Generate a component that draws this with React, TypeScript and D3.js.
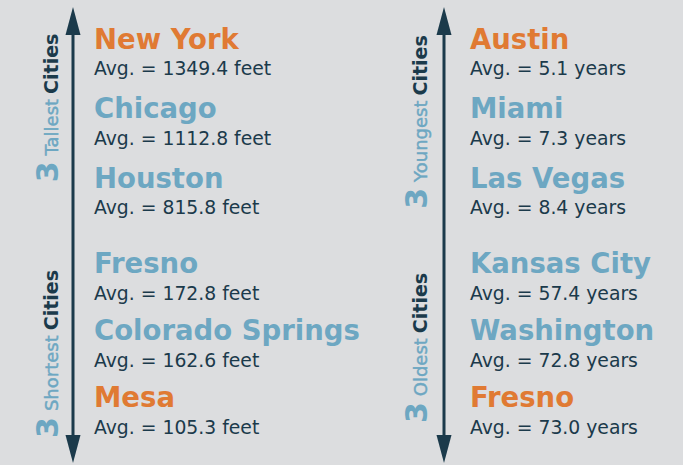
import React from "react";
import * as d3 from "d3";

const leftCities = ["New York", "Chicago", "Houston", "Fresno", "Colorado Springs", "Mesa"];
const leftValues = [1349.4, 1112.8, 815.8, 172.8, 162.6, 105.3];
const leftUnit = "feet";
const rightCities = ["Austin", "Miami", "Las Vegas", "Kansas City", "Washington", "Fresno"];
const rightValues = [5.1, 7.3, 8.4, 57.4, 72.8, 73.0];
const rightUnit = "years";
const groupLabels = [
  ["3", "Tallest", "Cities"],
  ["3", "Shortest", "Cities"],
  ["3", "Youngest", "Cities"],
  ["3", "Oldest", "Cities"],
];
const highlighted = [0, 5];

const W = 683;
const H = 465;
const BG = "#DCDDDF";
const ORANGE = "#E07A33";
const BLUE = "#6DA7C2";
const DARK = "#1B3A4B";
const FONT = "'DejaVu Sans', sans-serif";

const yTop = d3.scaleLinear().domain([0, 2]).range([48.5, 187.5]);
const yBot = d3.scaleLinear().domain([3, 5]).range([273, 407]);
const y = (i: number) => (i < 3 ? yTop(i) : yBot(i));

function Column({ x, cities, values, unit }: { x: number; cities: string[]; values: number[]; unit: string }) {
  return (
    <g>
      {cities.map((c, i) => (
        <g key={i}>
          <text x={x} y={y(i)} fontFamily={FONT} fontWeight="bold" fontSize={27.5}
            fill={highlighted.includes(i) ? ORANGE : BLUE}>{c}</text>
          <text x={x} y={y(i) + 26.5} fontFamily={FONT} fontSize={18.8} fill={DARK}>
            {`Avg. = ${d3.format(".1f")(values[i])} ${unit}`}
          </text>
        </g>
      ))}
    </g>
  );
}

function Arrow({ x }: { x: number }) {
  const top = 7, bot = 463, hl = 28, hw = 7.5;
  return (
    <g fill={DARK}>
      <line x1={x} x2={x} y1={top + hl - 2} y2={bot - hl + 2} stroke={DARK} strokeWidth={3} />
      <path d={`M${x},${top} L${x + hw},${top + hl} L${x - hw},${top + hl} Z`} />
      <path d={`M${x},${bot} L${x + hw},${bot - hl} L${x - hw},${bot - hl} Z`} />
    </g>
  );
}

function GroupLabel({ x, cy, parts }: { x: number; cy: number; parts: string[] }) {
  return (
    <text transform={`translate(${x},${cy}) rotate(-90)`} textAnchor="middle" fontFamily={FONT}>
      <tspan fill={BLUE} fontWeight="bold" fontSize={30}>{parts[0]}</tspan>
      <tspan fill={BLUE} stroke={BLUE} strokeWidth={0.45} fontSize={18} dx={6}>{parts[1]}</tspan>
      <tspan fill={DARK} fontWeight="bold" fontSize={19} dx={5}>{parts[2]}</tspan>
    </text>
  );
}

export default function App() {
  return (
    <svg width={W} height={H} style={{ position: "absolute", left: 0, top: 0 }}>
      <rect width={W} height={H} fill={BG} />
      <Arrow x={73} />
      <Arrow x={444} />
      <GroupLabel x={58} cy={108} parts={groupLabels[0]} />
      <GroupLabel x={58} cy={354} parts={groupLabels[1]} />
      <GroupLabel x={427} cy={122} parts={groupLabels[2]} />
      <GroupLabel x={427} cy={348} parts={groupLabels[3]} />
      <Column x={94} cities={leftCities} values={leftValues} unit={leftUnit} />
      <Column x={470} cities={rightCities} values={rightValues} unit={rightUnit} />
    </svg>
  );
}
